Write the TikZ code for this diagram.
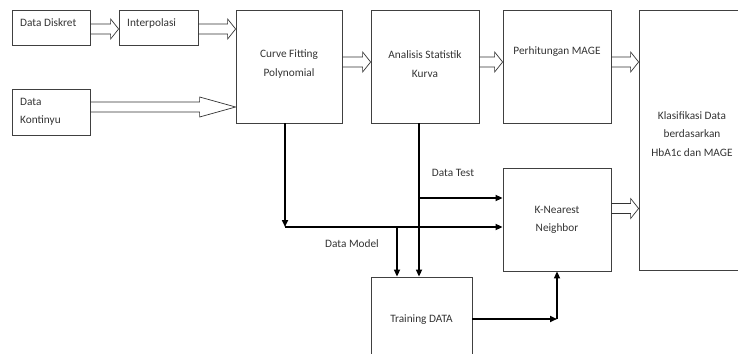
\documentclass[tikz,border=0pt]{standalone}
\usepackage{fontspec}
\setmainfont{Carlito}
\usetikzlibrary{arrows.meta,calc}

\begin{document}
\begin{tikzpicture}[x=1pt,y=-1pt,
  font=\fontsize{11.3}{18.5}\selectfont,
  box/.style={draw=black!75, line width=0.8pt, inner sep=0pt},
  txt/.style={text=black!80, inner sep=0pt, align=center},
  hollow/.style={draw=black!80, line width=0.7pt, line join=miter,
    to path={let \p1=(\tikztostart), \p2=(\tikztotarget) in
      (\x1,\y1+5pt) -- (\x2-#1,\y1+5pt) -- (\x2-#1,\y1+10pt) -- (\x2,\y1)
      -- (\x2-#1,\y1-10pt) -- (\x2-#1,\y1-5pt) -- (\x1,\y1-5pt)}},
  hollow/.default=8pt,
  flow/.style={line width=1.6pt, -{Triangle[length=7pt, width=6pt]}}]
\useasboundingbox (0,0) rectangle (738,353);

% Boxes
\node[box, minimum width=78pt, minimum height=35pt] (dd) at (51,27.5) {};
\node[box, minimum width=79pt, minimum height=35pt] (interp) at (158.5,27.5) {};
\node[box, minimum width=78pt, minimum height=46pt] (dk) at (51,112) {};
\node[box, minimum width=106pt, minimum height=113pt] (cfp) at (289,66.5) {};
\node[box, minimum width=108pt, minimum height=113pt] (ask) at (425,66.5) {};
\node[box, minimum width=108pt, minimum height=113pt] (mage) at (557,66.5) {};
\node[box, minimum width=106pt, minimum height=260pt] (klas) at (692,140) {};
\node[box, minimum width=108pt, minimum height=103pt] (knn) at (557,219.5) {};
\node[box, minimum width=101pt, minimum height=83pt] (train) at (421.5,318.5) {};

% Texts
\node[txt, anchor=west] (tdd) at (20,23) {Data Diskret};
\node[txt, anchor=west] (tinterp) at (127,23) {Interpolasi};
\node[txt, anchor=west, align=left] (tdk) at (20,112) {Data\\Kontinyu};
\node[txt] (tcfp) at (289,64) {Curve Fitting\\Polynomial};
\node[txt] (task) at (425,64) {Analisis Statistik\\Kurva};
\node[txt] (tmage) at (557,52) {Perhitungan MAGE};
\node[txt] (tklas) at (692,134) {Klasifikasi Data\\berdasarkan\\HbA1c dan MAGE};
\node[txt] (tknn) at (557,220) {K-Nearest\\Neighbor};
\node[txt] (ttrain) at (421.5,320) {Training DATA};
\node[txt] (ltest) at (453,173) {Data Test};
\node[txt] (lmodel) at (352,244) {Data Model};

% Corners
\coordinate (dm) at (285,227);
\coordinate (dmx) at (397,227);
\coordinate (dt) at (419,198);
\coordinate (tk) at (557,319);

%Block arrows
\draw[hollow] ([yshift=-1.5pt]dd.east) to ([yshift=-1.5pt]interp.west);
\draw[hollow] ([yshift=-1.5pt]interp.east) to ([yshift=-1.5pt]interp.east -| cfp.west);
\draw[hollow=36pt] ([yshift=5pt]dk.east) to ([yshift=5pt]dk.east -| cfp.west);
\draw[hollow] ([yshift=4.5pt]cfp.east) to ([yshift=4.5pt]ask.west);
\draw[hollow] ([yshift=4.5pt]ask.east) to ([yshift=4.5pt]mage.west);
\draw[hollow] ([yshift=4.5pt]mage.east) to ([yshift=4.5pt]mage.east -| klas.west);
\draw[hollow] ([yshift=11pt]knn.east) to ([yshift=11pt]knn.east -| klas.west);

%Lines
\draw[flow] (cfp.south -| dm) -- (dm);
\draw[flow] (dm) -- (dm -| knn.west);
\draw[flow] (dmx) -- (dmx |- train.north);
\draw[flow] (ask.south -| dt) -- (dt |- train.north);
\draw[flow] (dt) -- (dt -| knn.west);
\draw[flow] (train.east |- tk) -- (tk);
\draw[flow] (tk) -- (knn.south);
\end{tikzpicture}
\end{document}
